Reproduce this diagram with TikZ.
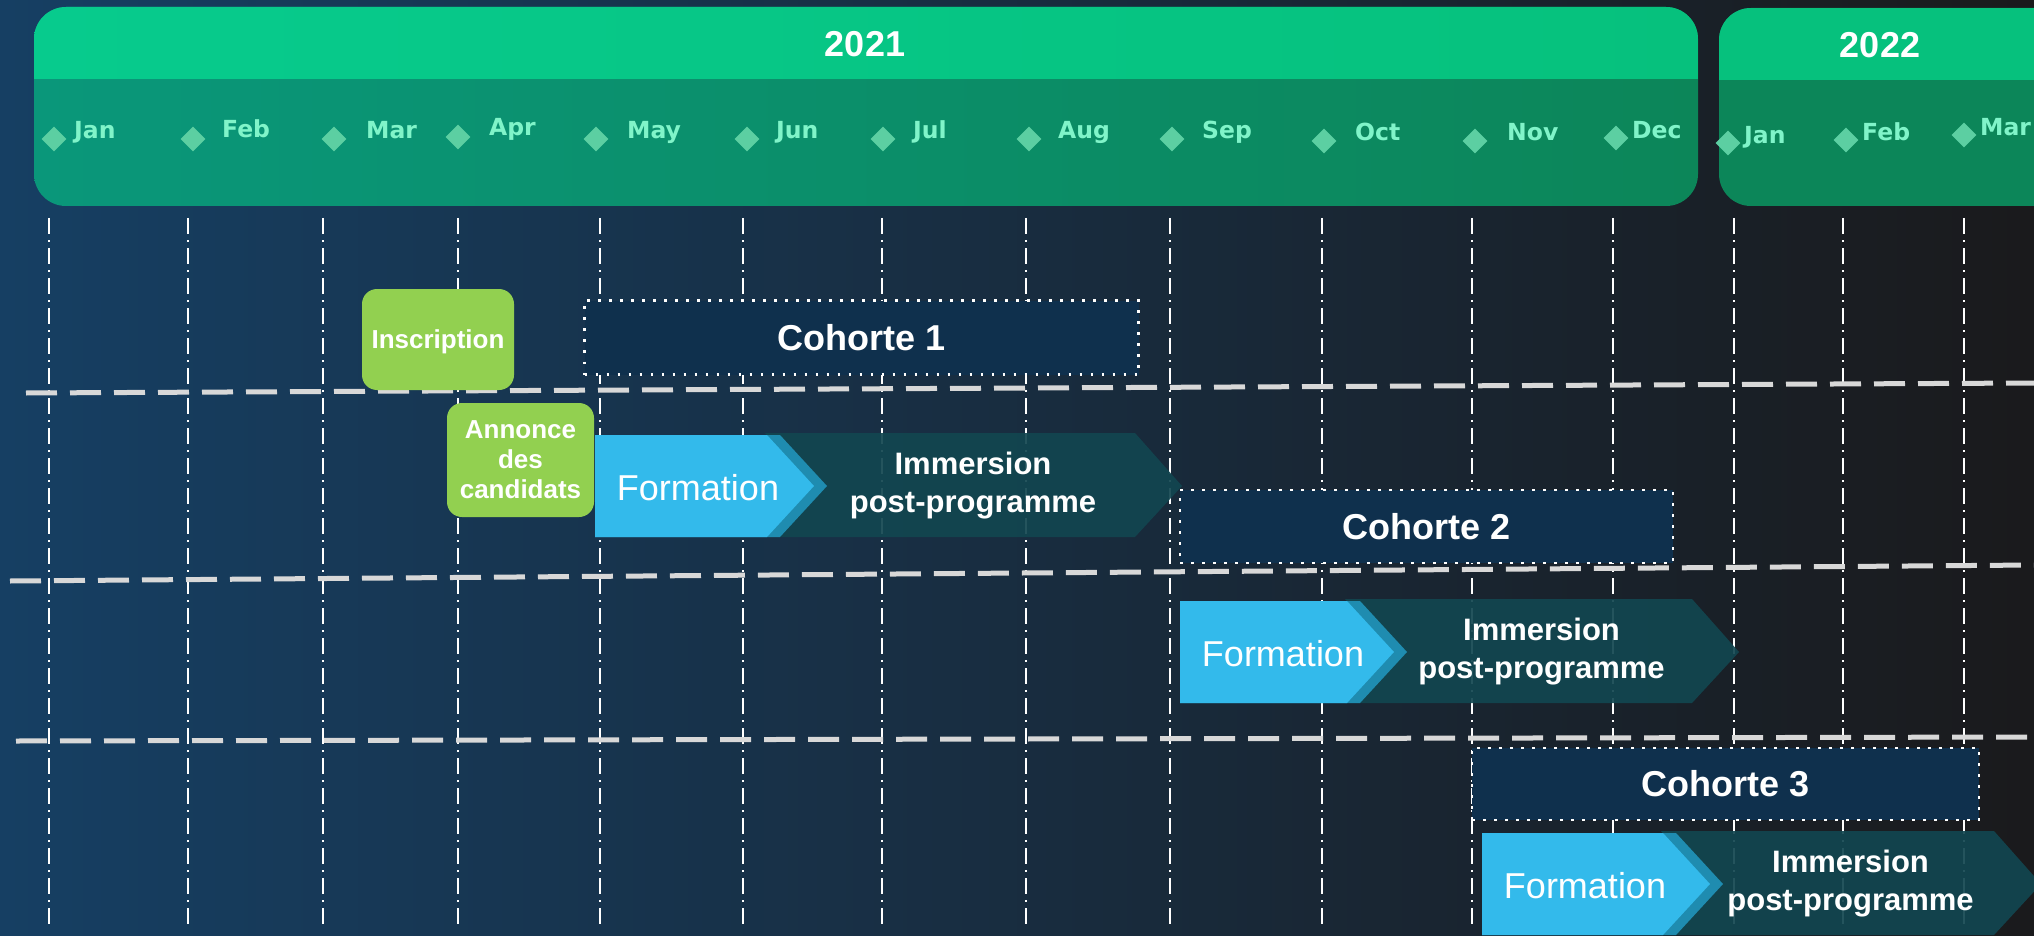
\documentclass[tikz,border=0pt]{standalone}
\usepackage{fontspec}
\setmainfont{Liberation Sans}
\newfontfamily\monthfont{DejaVu Sans}
\usetikzlibrary{shapes.geometric}

\definecolor{bgleft}{HTML}{163F63}
\definecolor{bgright}{HTML}{1A1A1C}
\definecolor{darkgreenl}{HTML}{0A977A}
\definecolor{darkgreenr}{HTML}{0C8659}
\definecolor{lightgreenl}{HTML}{07CB8D}
\definecolor{lightgreenr}{HTML}{06C17D}
\definecolor{monthtxt}{HTML}{80F4C9}
\definecolor{monthdot}{HTML}{5CCFA2}
\definecolor{sepgray}{HTML}{D8D8D8}
\definecolor{leaf}{HTML}{92D050}
\definecolor{navy}{HTML}{0F304D}
\definecolor{skyblue}{HTML}{33BAEB}
\definecolor{skyshadow}{HTML}{1F8CB0}
\definecolor{darkteal}{HTML}{124650}

\begin{document}
\begin{tikzpicture}[x=1pt,y=-1pt]
  \tikzset{month/.style = {anchor=base west,text=monthtxt,inner sep=0pt,font=\monthfont\bfseries\fontsize{23.5}{26}\selectfont}}
  \tikzset{monthmark/.style = {shape=diamond,fill=monthdot,minimum size=25pt,inner sep=0pt}}
  \tikzset{year/.style = {text=white,font=\bfseries\fontsize{36}{40}\selectfont}}
  \tikzset{gridline/.style = {white,line width=1.6pt,dash pattern=on 16pt off 6pt on 2pt off 6pt}}
  \tikzset{sepline/.style = {sepgray,line width=5pt,dash pattern=on 31pt off 13pt}}
  \tikzset{greenbox/.style = {fill=leaf,rounded corners=15pt,text=white,align=center,font=\bfseries\fontsize{26}{30}\selectfont}}
  \tikzset{cohortbox/.style = {fill=navy,draw=white,line width=2.8pt,dash pattern=on 2.8pt off 8.2pt,text=white,font=\bfseries\fontsize{36}{40}\selectfont}}
  \tikzset{formtext/.style = {text=white,font=\fontsize{36}{40}\selectfont}}
  \tikzset{immtext/.style = {text=white,align=center,font=\bfseries\fontsize{31}{38}\selectfont}}

  \path[use as bounding box,clip] (0,0) rectangle (2034,936);
  \shade[left color=bgleft,right color=bgright] (0,0) rectangle (2034,936);

  % year headers
  \shade[rounded corners=32pt,left color=darkgreenl,right color=darkgreenr] (34,7) rectangle (1698,206);
  \begin{scope}
    \clip[rounded corners=32pt] (34,7) rectangle (1698,206);
    \shade[left color=lightgreenl,right color=lightgreenr] (34,7) rectangle (1698,79);
  \end{scope}
  \fill[rounded corners=32pt,darkgreenr] (1719,8) rectangle (2080,206);
  \begin{scope}
    \clip[rounded corners=32pt] (1719,8) rectangle (2080,206);
    \fill[lightgreenr] (1719,8) rectangle (2080,80);
  \end{scope}
  \node[year] (y2021) at (865,44) {2021};
  \node[year] (y2022) at (1880,45) {2022};

  % months
  \foreach \dx/\dy/\lx/\ly/\name [count=\i] in {54/139/74/130/Jan, 193/139/222/129/Feb, 334/139/366/130/Mar,
      458/137/489/127/Apr, 596/139/627/130/May, 747/139/776/130/Jun, 883/139/913/130/Jul,
      1029/139/1058/130/Aug, 1172/139/1202/130/Sep, 1324/141/1355/132/Oct, 1475/141/1507/132/Nov,
      1616/138/1632/130/Dec, 1728/143/1744/135/Jan, 1846/140/1862/132/Feb, 1964/135/1980/127/Mar}
  {
    \node[monthmark] (d\i) at (\dx,\dy) {};
    \node[month] (m\i) at (\lx,\ly+8.5) {\name};
  }

  % grid
  \foreach \x in {49,188,323,458,600,743,882,1026,1170,1322,1472,1613,1734,1843,1964}
    \draw[gridline] (\x,218) -- (\x,924);
  \draw[sepline] (26,393) -- (2034,383);
  \draw[sepline] (10,581) -- (2034,565);
  \draw[sepline] (16,741) -- (2034,737);

  % boxes
  \node[greenbox,minimum width=152pt,minimum height=101pt,text depth=0pt] (insc) at (438,339.5) {Inscription};
  \node[greenbox,minimum width=147pt,minimum height=114pt] (annonce) at (520.5,460) {Annonce\\des\\candidats};

  \node[cohortbox,minimum width=554pt,minimum height=74pt] (coh1) at (861.5,337.5) {Cohorte 1};
  \node[cohortbox,minimum width=493pt,minimum height=73pt] (coh2) at (1426.5,526.5) {Cohorte 2};
  \node[cohortbox,minimum width=507pt,minimum height=72pt] (coh3) at (1725.5,784) {Cohorte 3};

  % formation / immersion arrows
  \foreach \L/\T/\B/\R/\E [count=\n] in {595/435/537/767/1135, 1180/601/703/1347/1692, 1482/833/935/1663/1994}
  {
    \fill[darkteal,fill opacity=0.92] (\R-2,\T-2) -- (\E,\T-2) -- ({\E+47},{(\T+\B)/2}) -- (\E,\B) -- (\R-2,\B) -- ({\R+45},{(\T+\B)/2}) -- cycle;
    \fill[skyshadow] (\L,\T) -- (\R+13,\T) -- ({\R+60},{(\T+\B)/2}) -- (\R+13,\B) -- (\L,\B) -- cycle;
    \fill[skyblue] (\L,\T) -- (\R,\T) -- ({\R+47},{(\T+\B)/2}) -- (\R,\B) -- (\L,\B) -- cycle;
    \node[formtext] (form\n) at ({\L+103},{(\T+\B)/2+2}) {Formation};
    \node[immtext] (imm\n) at ({(\R+\E)/2+22},{(\T+\B)/2}) {Immersion\\post-programme};
  }
\end{tikzpicture}
\end{document}
